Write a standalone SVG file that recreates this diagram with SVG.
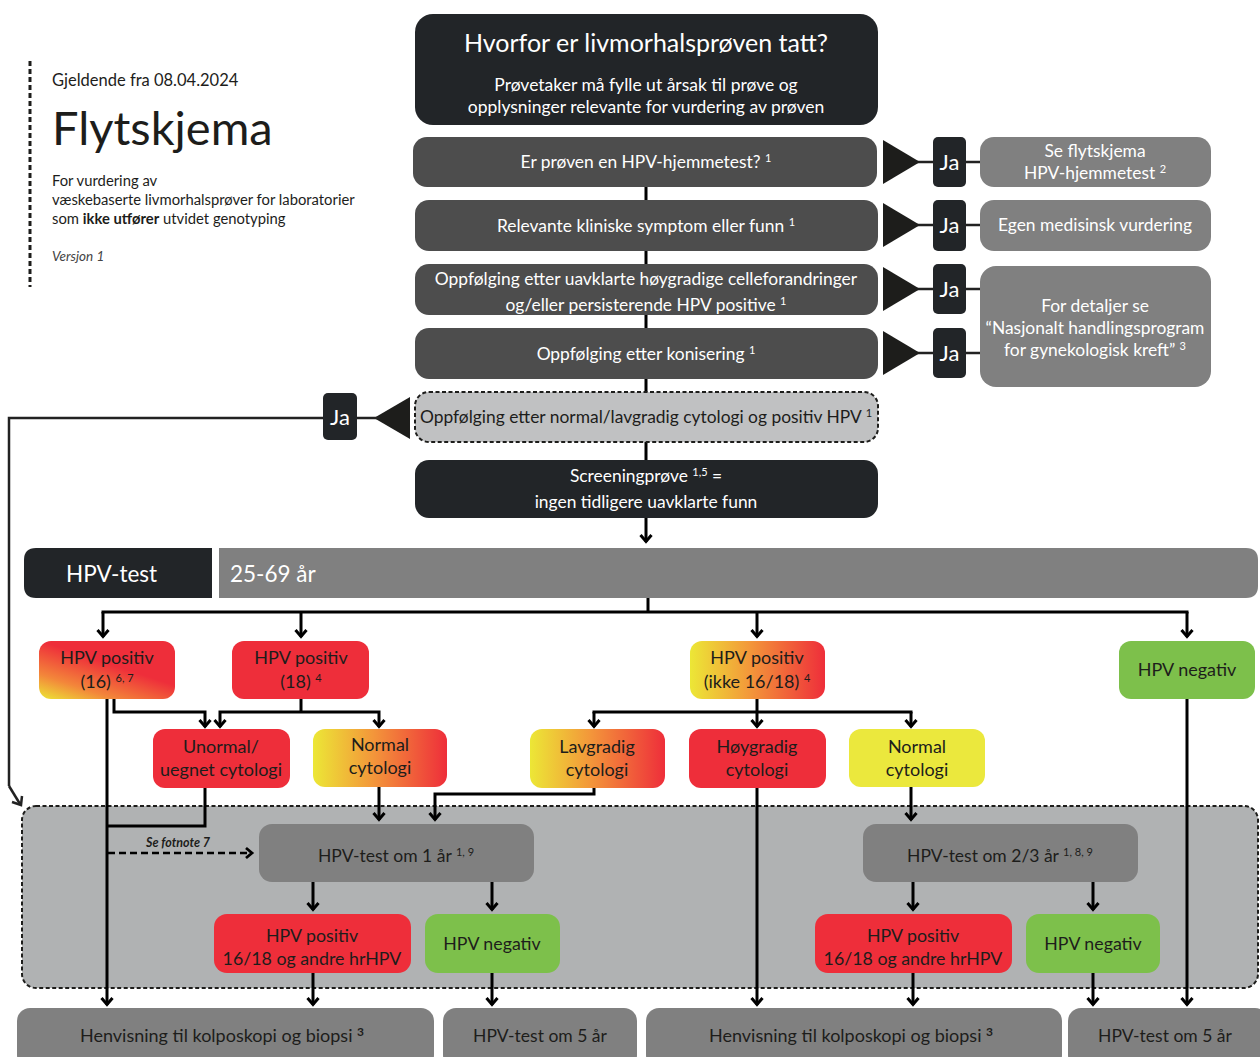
<svg xmlns="http://www.w3.org/2000/svg" width="1260" height="1057" viewBox="0 0 1260 1057">
<defs>
<style>
text{font-family:Lato,"Open Sans","Liberation Sans",sans-serif;}
.w{fill:#ffffff;}
.d{fill:#1d1d1b;}
.c{text-anchor:middle;}
.s{font-size:17.4px;}
.b{font-size:18px;}
.dark{fill:#222528;}
.mid{fill:#4d4d4d;}
.gr{fill:#808080;}
.red{fill:#ee2e3a;}
.grn{fill:#7dc04b;}
.yel{fill:#ebe83d;}
.ln{fill:none;stroke:#000;stroke-width:3;}
.lnd{fill:none;stroke:#222;stroke-width:2.5;}
.arr{fill:none;stroke:#000;stroke-width:3;marker-end:url(#ah);}
.sup{font-size:11px;}
</style>
<marker id="ah" viewBox="0 0 16 16" refX="13" refY="8" markerWidth="16" markerHeight="16" markerUnits="userSpaceOnUse" orient="auto" overflow="visible">
<path d="M6,2.5 L12.5,8 L6,13.5" fill="none" stroke="#000" stroke-width="3"/>
</marker>
<marker id="ahr" viewBox="0 0 14 14" refX="11" refY="7" markerWidth="14" markerHeight="14" markerUnits="userSpaceOnUse" orient="auto">
<path d="M5,2 L11,7 L5,12" fill="none" stroke="#000" stroke-width="2.8"/>
</marker>
<linearGradient id="gh" x1="0" y1="0" x2="1" y2="0">
<stop offset="0" stop-color="#ece736"/>
<stop offset="0.45" stop-color="#f3963a"/>
<stop offset="1" stop-color="#ee2e3a"/>
</linearGradient>
<linearGradient id="g16" x1="0" y1="1" x2="0.7" y2="0.1">
<stop offset="0" stop-color="#ece736"/>
<stop offset="0.3" stop-color="#f3863a"/>
<stop offset="0.7" stop-color="#ee2e3a"/>
<stop offset="1" stop-color="#ee2e3a"/>
</linearGradient>
</defs>

<rect width="1260" height="1057" fill="#ffffff"/>

<!-- header -->
<g id="header">
<line x1="30" y1="61" x2="30" y2="287" stroke="#1d1d1b" stroke-width="3" stroke-dasharray="5,3"/>
<text x="52" y="86" font-size="16.5" class="d">Gjeldende fra 08.04.2024</text>
<text x="52" y="145" font-size="47" class="d">Flytskjema</text>
<text x="52" y="186" font-size="14.8" class="d">For vurdering av</text>
<text x="52" y="205" font-size="14.8" class="d">væskebaserte livmorhalsprøver for laboratorier</text>
<text x="52" y="224" font-size="14.8" class="d">som <tspan font-weight="bold">ikke utfører</tspan> utvidet genotyping</text>
<text x="52" y="261" font-size="13.5" font-style="italic" fill="#444">Versjon 1</text>
</g>

<!-- big gray dashed region -->
<g id="followup-region">
<rect x="22" y="806" width="1236" height="182" rx="14" fill="#b0b2b3" stroke="#1d1d1b" stroke-width="2" stroke-dasharray="4,2.5"/>
</g>

<!-- connectors -->
<g id="connectors">
<line class="ln" x1="646" y1="187" x2="646" y2="460"/>
<line class="arr" x1="646" y1="518" x2="646" y2="542"/>
<!-- Ja lines -->
<line class="lnd" x1="915" y1="162" x2="980" y2="162"/>
<line class="lnd" x1="915" y1="225" x2="980" y2="225"/>
<line class="lnd" x1="915" y1="289" x2="980" y2="289"/>
<line class="lnd" x1="915" y1="353" x2="980" y2="353"/>
<polygon points="883,140 920,162 883,184" fill="#1d1d1b"/>
<polygon points="883,203 920,225 883,247" fill="#1d1d1b"/>
<polygon points="883,267 920,289 883,311" fill="#1d1d1b"/>
<polygon points="883,331 920,353 883,375" fill="#1d1d1b"/>
<polygon points="410,397 374,418 410,439" fill="#1d1d1b"/>
<polyline class="lnd" points="380,418 9,418 9,786" />
<line x1="9" y1="786" x2="20" y2="804" stroke="#222" stroke-width="2.5"/>
<path d="M12,802 L21,805 L22,796" fill="none" stroke="#222" stroke-width="2.5"/>

<!-- HPV-test distribution -->
<polyline class="ln" points="648,598 648,612"/>
<line class="ln" x1="101.5" y1="612" x2="1188.5" y2="612"/>
<line class="arr" x1="103" y1="612" x2="103" y2="637"/>
<line class="arr" x1="301" y1="612" x2="301" y2="637"/>
<line class="arr" x1="757" y1="612" x2="757" y2="637"/>
<line class="arr" x1="1187" y1="612" x2="1187" y2="637"/>

<!-- from 16 -->
<line class="arr" x1="107" y1="699" x2="107" y2="1005"/>
<polyline class="arr" points="114,699 114,712 205,712 205,727"/>
<!-- from 18 -->
<line class="ln" x1="301" y1="699" x2="301" y2="712"/>
<polyline class="arr" points="301,712 220,712 220,727"/>
<polyline class="arr" points="301,712 379,712 379,727"/>
<!-- from ikke 16/18 -->
<line class="ln" x1="757" y1="699" x2="757" y2="712"/>
<line class="ln" x1="592.5" y1="712" x2="912.5" y2="712"/>
<line class="arr" x1="594" y1="712" x2="594" y2="727"/>
<line class="arr" x1="757" y1="712" x2="757" y2="727"/>
<line class="arr" x1="911" y1="712" x2="911" y2="727"/>

<!-- cytology outputs -->
<polyline class="ln" points="205,788 205,826 107,826"/>
<line class="arr" x1="379" y1="787" x2="379" y2="820"/>
<polyline class="arr" points="594,788 594,794 435,794 435,820"/>
<line class="arr" x1="757" y1="788" x2="757" y2="1005"/>
<line class="arr" x1="911" y1="787" x2="911" y2="820"/>
<line class="arr" x1="1187" y1="699" x2="1187" y2="1005"/>

<!-- dashed footnote arrow -->
<line x1="108" y1="853" x2="252" y2="853" fill="none" stroke="#000" stroke-width="2.5" stroke-dasharray="7,4" marker-end="url(#ahr)"/>
<text x="178" y="847" font-size="12.5" font-style="italic" font-weight="bold" class="d c">Se fotnote 7</text>

<!-- 1 år outputs -->
<line class="arr" x1="313" y1="882" x2="313" y2="910"/>
<line class="arr" x1="492" y1="882" x2="492" y2="910"/>
<line class="arr" x1="313" y1="973" x2="313" y2="1005"/>
<line class="arr" x1="492" y1="973" x2="492" y2="1005"/>
<!-- 2/3 år outputs -->
<line class="arr" x1="913" y1="882" x2="913" y2="910"/>
<line class="arr" x1="1093" y1="882" x2="1093" y2="910"/>
<line class="arr" x1="913" y1="973" x2="913" y2="1005"/>
<line class="arr" x1="1093" y1="973" x2="1093" y2="1005"/>
</g>

<!-- top nodes -->
<g id="n-why">
<rect x="415" y="14" width="463" height="111" rx="18" class="dark"/>
<text x="646" y="52" font-size="25" class="w c">Hvorfor er livmorhalsprøven tatt?</text>
<text x="646" y="91" font-size="17.5" class="w c">Prøvetaker må fylle ut årsak til prøve og</text>
<text x="646" y="113" font-size="17.5" class="w c">opplysninger relevante for vurdering av prøven</text>
</g>

<g id="n-home">
<rect x="413" y="137" width="464" height="50" rx="14" class="mid"/>
<text x="646" y="168" class="w c s">Er prøven en HPV-hjemmetest? <tspan class="sup" dy="-6">1</tspan></text>
</g>
<g id="ja1"><rect x="933" y="137" width="33" height="50" rx="5" class="dark"/><text x="949.5" y="170" font-size="22" class="w c">Ja</text></g>
<g id="n-see-home">
<rect x="980" y="137" width="231" height="50" rx="14" class="gr"/>
<text x="1095" y="157" class="w c s">Se flytskjema</text>
<text x="1095" y="179" class="w c s">HPV-hjemmetest <tspan class="sup" dy="-6">2</tspan></text>
</g>

<g id="n-symptom">
<rect x="415" y="200" width="463" height="51" rx="14" class="mid"/>
<text x="646" y="232" class="w c s">Relevante kliniske symptom eller funn <tspan class="sup" dy="-6">1</tspan></text>
</g>
<g id="ja2"><rect x="933" y="200" width="33" height="51" rx="5" class="dark"/><text x="949.5" y="233" font-size="22" class="w c">Ja</text></g>
<g id="n-medical">
<rect x="980" y="200" width="231" height="51" rx="14" class="gr"/>
<text x="1095" y="231" class="w c s">Egen medisinsk vurdering</text>
</g>

<g id="n-highgrade">
<rect x="415" y="264" width="463" height="51" rx="14" class="mid"/>
<text x="646" y="285" class="w c s">Oppfølging etter uavklarte høygradige celleforandringer</text>
<text x="646" y="311" class="w c s">og/eller persisterende HPV positive <tspan class="sup" dy="-6">1</tspan></text>
</g>
<g id="ja3"><rect x="933" y="264" width="33" height="50" rx="5" class="dark"/><text x="949.5" y="297" font-size="22" class="w c">Ja</text></g>

<g id="n-konisering">
<rect x="415" y="328" width="463" height="51" rx="14" class="mid"/>
<text x="646" y="360" class="w c s">Oppfølging etter konisering <tspan class="sup" dy="-6">1</tspan></text>
</g>
<g id="ja4"><rect x="933" y="328" width="33" height="50" rx="5" class="dark"/><text x="949.5" y="361" font-size="22" class="w c">Ja</text></g>
<g id="n-program">
<rect x="980" y="266" width="231" height="121" rx="16" class="gr"/>
<text x="1095" y="312" class="w c s">For detaljer se</text>
<text x="1095" y="334" class="w c s">“Nasjonalt handlingsprogram</text>
<text x="1095" y="356" class="w c s">for gynekologisk kreft” <tspan class="sup" dy="-6">3</tspan></text>
</g>

<g id="n-normal-low">
<rect x="415" y="392" width="463" height="50" rx="14" fill="#c0c1c2" stroke="#1d1d1b" stroke-width="2" stroke-dasharray="4,2.5"/>
<text x="646" y="423" class="d c s">Oppfølging etter normal/lavgradig cytologi og positiv HPV <tspan class="sup" dy="-6">1</tspan></text>
</g>
<g id="ja5"><rect x="323" y="393" width="34" height="47" rx="5" class="dark"/><text x="340" y="425" font-size="22" class="w c">Ja</text></g>

<g id="n-screening">
<rect x="415" y="460" width="463" height="58" rx="14" class="dark"/>
<text x="646" y="482" class="w c s">Screeningprøve <tspan class="sup" dy="-6">1,5</tspan><tspan dy="6"> =</tspan></text>
<text x="646" y="508" class="w c s">ingen tidligere uavklarte funn</text>
</g>

<g id="n-hpvtest">
<path d="M36,548 H212 V598 H36 Q24,598 24,586 V560 Q24,548 36,548 Z" class="dark"/>
<path d="M219,548 H1246 Q1258,548 1258,560 V586 Q1258,598 1246,598 H219 Z" class="gr"/>
<text x="66" y="582" font-size="22.5" class="w">HPV-test</text>
<text x="230" y="582" font-size="22.5" class="w">25-69 år</text>
</g>

<!-- first level -->
<g id="n-pos16">
<rect x="39" y="641" width="136" height="58" rx="12" fill="url(#g16)"/>
<text x="107" y="664" class="d c b">HPV positiv</text>
<text x="107" y="688" class="d c b">(16) <tspan class="sup" dy="-6">6, 7</tspan></text>
</g>
<g id="n-pos18">
<rect x="232" y="641" width="137" height="58" rx="12" class="red"/>
<text x="301" y="664" class="d c b">HPV positiv</text>
<text x="301" y="688" class="d c b">(18) <tspan class="sup" dy="-6">4</tspan></text>
</g>
<g id="n-posother">
<rect x="690" y="641" width="135" height="58" rx="12" fill="url(#gh)"/>
<text x="757" y="664" class="d c b">HPV positiv</text>
<text x="757" y="688" class="d c b">(ikke 16/18) <tspan class="sup" dy="-6">4</tspan></text>
</g>
<g id="n-neg">
<rect x="1119" y="641" width="136" height="58" rx="12" class="grn"/>
<text x="1187" y="676" class="d c b">HPV negativ</text>
</g>

<!-- cytology -->
<g id="n-abnormal">
<rect x="153" y="729" width="137" height="59" rx="12" class="red"/>
<text x="221" y="753" class="d c b">Unormal/</text>
<text x="221" y="776" class="d c b">uegnet cytologi</text>
</g>
<g id="n-normal1">
<rect x="313" y="729" width="134" height="58" rx="12" fill="url(#gh)"/>
<text x="380" y="751" class="d c b">Normal</text>
<text x="380" y="774" class="d c b">cytologi</text>
</g>
<g id="n-low">
<rect x="530" y="729" width="135" height="59" rx="12" fill="url(#gh)"/>
<text x="597" y="753" class="d c b">Lavgradig</text>
<text x="597" y="776" class="d c b">cytologi</text>
</g>
<g id="n-high">
<rect x="689" y="729" width="137" height="59" rx="12" class="red"/>
<text x="757" y="753" class="d c b">Høygradig</text>
<text x="757" y="776" class="d c b">cytologi</text>
</g>
<g id="n-normal2">
<rect x="849" y="729" width="136" height="58" rx="12" class="yel"/>
<text x="917" y="753" class="d c b">Normal</text>
<text x="917" y="776" class="d c b">cytologi</text>
</g>

<!-- follow-up tests -->
<g id="n-1yr">
<rect x="259" y="824" width="275" height="58" rx="13" class="gr"/>
<text x="396" y="862" font-size="17.5" class="d c">HPV-test om 1 år <tspan class="sup" dy="-6">1, 9</tspan></text>
</g>
<g id="n-1yr-pos">
<rect x="214" y="914" width="197" height="59" rx="13" class="red"/>
<text x="312" y="942" font-size="17.8" class="d c">HPV positiv</text>
<text x="312" y="965" font-size="17.8" class="d c">16/18 og andre hrHPV</text>
</g>
<g id="n-1yr-neg">
<rect x="425" y="914" width="135" height="59" rx="13" class="grn"/>
<text x="492" y="950" font-size="17.8" class="d c">HPV negativ</text>
</g>
<g id="n-23yr">
<rect x="863" y="824" width="275" height="58" rx="13" class="gr"/>
<text x="1000" y="862" font-size="17.5" class="d c">HPV-test om 2/3 år <tspan class="sup" dy="-6">1, 8, 9</tspan></text>
</g>
<g id="n-23yr-pos">
<rect x="815" y="914" width="197" height="59" rx="13" class="red"/>
<text x="913" y="942" font-size="17.8" class="d c">HPV positiv</text>
<text x="913" y="965" font-size="17.8" class="d c">16/18 og andre hrHPV</text>
</g>
<g id="n-23yr-neg">
<rect x="1026" y="914" width="134" height="59" rx="13" class="grn"/>
<text x="1093" y="950" font-size="17.8" class="d c">HPV negativ</text>
</g>

<!-- bottom -->
<g id="n-refer1">
<rect x="17" y="1008" width="417" height="60" rx="13" class="gr"/>
<text x="222" y="1042" font-size="18" class="d c">Henvisning til kolposkopi og biopsi <tspan font-size="12" font-weight="bold" dy="-6">3</tspan></text>
</g>
<g id="n-5yr1">
<rect x="443" y="1008" width="194" height="60" rx="13" class="gr"/>
<text x="540" y="1042" font-size="17.5" class="d c">HPV-test om 5 år</text>
</g>
<g id="n-refer2">
<rect x="646" y="1008" width="416" height="60" rx="13" class="gr"/>
<text x="851" y="1042" font-size="18" class="d c">Henvisning til kolposkopi og biopsi <tspan font-size="12" font-weight="bold" dy="-6">3</tspan></text>
</g>
<g id="n-5yr2">
<rect x="1068" y="1008" width="200" height="60" rx="13" class="gr"/>
<text x="1165" y="1042" font-size="17.5" class="d c">HPV-test om 5 år</text>
</g>
</svg>
